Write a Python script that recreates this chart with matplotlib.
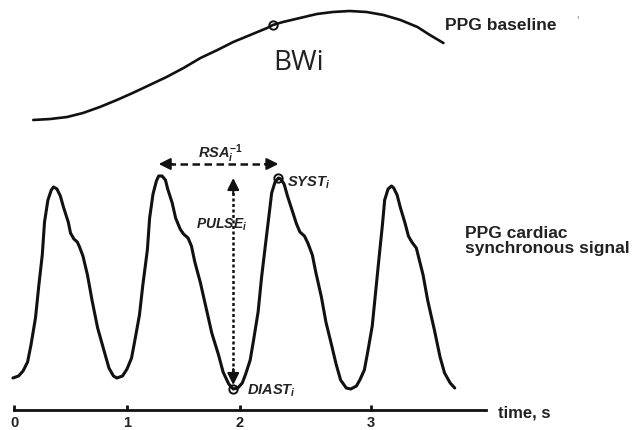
import numpy as np
import matplotlib.pyplot as plt

plt.rcParams['mathtext.fontset'] = 'custom'
plt.rcParams['mathtext.it'] = 'Liberation Sans:bold:italic'
plt.rcParams['mathtext.rm'] = 'Liberation Sans:bold'

### Data (time in s, amplitude in arbitrary units)

# PPG cardiac synchronous signal
ppg_t = [-0.01, 0.04, 0.08, 0.12, 0.15, 0.19, 0.22, 0.25, 0.27, 0.30, 0.33, 0.35,
         0.38, 0.41, 0.44, 0.48, 0.50, 0.53, 0.56, 0.58, 0.61, 0.65, 0.69, 0.74,
         0.80, 0.84, 0.88, 0.91, 0.96, 1.00,
         1.04, 1.07, 1.11, 1.14, 1.18, 1.20, 1.23, 1.26, 1.28, 1.31, 1.34, 1.36,
         1.40, 1.43, 1.47, 1.50, 1.54, 1.57, 1.60, 1.65, 1.70, 1.75, 1.81, 1.85,
         1.90, 1.94, 1.98, 2.02,
         2.05, 2.09, 2.12, 2.16, 2.19, 2.23, 2.26, 2.28, 2.31, 2.34, 2.36, 2.39,
         2.42, 2.46, 2.50, 2.53, 2.57, 2.60, 2.64, 2.67, 2.72, 2.76, 2.81, 2.85,
         2.89, 2.94, 2.98, 3.03, 3.06,
         3.10, 3.13, 3.17, 3.20, 3.23, 3.26, 3.28, 3.31, 3.34, 3.36, 3.39, 3.42,
         3.46, 3.49, 3.52, 3.56, 3.58, 3.62, 3.66, 3.72, 3.77, 3.81, 3.86, 3.90]
ppg_y = [0.32, 0.34, 0.39, 0.48, 0.65, 0.92, 1.25, 1.55, 1.88, 2.10, 2.20, 2.23,
         2.21, 2.14, 2.02, 1.88, 1.77, 1.71, 1.68, 1.63, 1.54, 1.35, 1.10, 0.82,
         0.58, 0.42, 0.34, 0.32, 0.34, 0.41,
         0.52, 0.70, 0.95, 1.25, 1.60, 1.92, 2.16, 2.29, 2.34, 2.34, 2.30, 2.21,
         2.07, 1.92, 1.81, 1.76, 1.72, 1.64, 1.48, 1.27, 1.02, 0.77, 0.55, 0.38,
         0.26, 0.21, 0.22, 0.27,
         0.36, 0.50, 0.70, 0.98, 1.32, 1.70, 1.98, 2.17, 2.28, 2.32, 2.31, 2.26,
         2.14, 2.00, 1.86, 1.78, 1.74, 1.67, 1.55, 1.38, 1.13, 0.88, 0.65, 0.46,
         0.30, 0.22, 0.21, 0.24, 0.30,
         0.40, 0.58, 0.84, 1.18, 1.52, 1.85, 2.10, 2.21, 2.24, 2.22, 2.15, 2.02,
         1.87, 1.74, 1.68, 1.62, 1.53, 1.35, 1.10, 0.80, 0.53, 0.37, 0.27, 0.22]

# PPG baseline (slow wave)
base_t = [0.17, 0.32, 0.47, 0.61, 0.76, 0.91, 1.05, 1.20, 1.35, 1.50, 1.65, 1.80,
          1.94, 2.09, 2.24, 2.29, 2.38, 2.53, 2.68, 2.82, 2.97, 3.12, 3.27, 3.42,
          3.57, 3.68, 3.80]
base_y = [2.90, 2.91, 2.93, 2.97, 3.03, 3.10, 3.17, 3.25, 3.33, 3.42, 3.52, 3.60,
          3.68, 3.75, 3.82, 3.85, 3.88, 3.92, 3.96, 3.98, 3.99, 3.98, 3.95, 3.90,
          3.83, 3.75, 3.67]
bw_time = 2.29

# time axis
tick_pos = [0, 1, 2, 3.16]
tick_labels = ['0', '1', '2', '3']
axis_end = 4.18

ppg_t = np.array(ppg_t)
ppg_y = np.array(ppg_y)

# beat i: systolic peak of the 3rd beat, diastolic minimum just before it
m = (ppg_t > 2.0) & (ppg_t < 3.0)
syst_t, syst_y = ppg_t[m][np.argmax(ppg_y[m])], ppg_y[m].max()
m = (ppg_t > 1.5) & (ppg_t < 2.2)
diast_t, diast_y = ppg_t[m][np.argmin(ppg_y[m])], ppg_y[m].min()
m = (ppg_t > 1.0) & (ppg_t < 1.6)
prev_syst_t = ppg_t[m][np.argmax(ppg_y[m])]

ink = '#111111'
txt = '#222222'

fig = plt.figure(figsize=(6.43, 4.30), dpi=100)
ax = fig.add_axes([0, 0, 1, 1])
ax.set_xlim(-0.124, 5.566)
ax.set_ylim(-0.20, 4.10)
ax.axis('off')

# signals
ax.plot(ppg_t, ppg_y, color=ink, lw=2.2, solid_joinstyle='round', solid_capstyle='round')
ax.plot(base_t, base_y, color=ink, lw=1.9, solid_joinstyle='round', solid_capstyle='round')
bi = base_t.index(bw_time)
ax.plot(base_t[bi], base_y[bi], 'o', ms=6, mfc='none', mec=ink, mew=1.4)
ax.text(base_t[bi], 3.47, 'BWi', fontsize=20, family='Open Sans', color=txt, va='center', ha='left')

# time axis
ax.plot([0, axis_end], [0, 0], color=ink, lw=2.0)
ax.plot(tick_pos, [0.02] * len(tick_pos), '|', color=ink, ms=4, mew=2)
for p, lab in zip(tick_pos, tick_labels):
    ax.text(p, -0.13, lab, ha='center', va='center', fontsize=10.5,
            fontweight='bold', family='Liberation Sans', color=txt)
ax.text(4.28, -0.03, 'time, s', ha='left', va='center', fontsize=12,
        fontweight='bold', family='Liberation Sans', color=txt)

# RSA interval arrow (peak to peak)
arrow_y = 2.46
ax.plot([prev_syst_t + 0.08, syst_t - 0.08], [arrow_y, arrow_y], color=ink, lw=1.8,
        dashes=(3, 1.8))
for tip, back in [(prev_syst_t, prev_syst_t + 0.12), (syst_t, syst_t - 0.12)]:
    ax.annotate('', xy=(tip, arrow_y), xytext=(back, arrow_y),
                arrowprops=dict(arrowstyle='-|>,head_length=0.7,head_width=0.35',
                                color=ink, lw=1.5, shrinkA=0, shrinkB=0))
ax.text(1.83, 2.56, r'$RSA_i^{-1}$', ha='center', va='center', fontsize=10.5, color=txt)

# pulse amplitude arrow (diast to syst)
ax.plot([diast_t, diast_t], [diast_y + 0.12, syst_y - 0.12], color=ink, lw=1.8,
        dashes=(1.2, 1.0))
for tip, back in [(syst_y, syst_y - 0.16), (diast_y + 0.04, diast_y + 0.2)]:
    ax.annotate('', xy=(diast_t, tip), xytext=(diast_t, back),
                arrowprops=dict(arrowstyle='-|>,head_length=0.7,head_width=0.35',
                                color=ink, lw=1.5, shrinkA=0, shrinkB=0))
ax.text(1.84, 1.85, r'$PULSE_i$', ha='center', va='center', fontsize=10, color=txt)

# systolic / diastolic points
ax.plot([syst_t, diast_t], [syst_y, diast_y], 'o', ms=6, mfc='none', mec=ink, mew=1.4)
ax.text(2.42, 2.27, r'$SYST_i$', ha='left', va='center', fontsize=10.5, color=txt)
ax.text(2.06, 0.19, r'$DIAST_i$', ha='left', va='center', fontsize=10.5, color=txt)

# labels on the right
ax.text(3.81, 3.85, "PPG baseline", ha='left', va='center', fontsize=12.5,
        fontweight='bold', family='Liberation Sans', color=txt)
ax.text(4.97, 3.90, "'", ha='left', va='center', fontsize=7, color='#777777')
ax.text(3.99, 1.69, 'PPG cardiac\nsynchronous signal', ha='left', va='center',
        fontsize=12.5, fontweight='bold', family='Liberation Sans', color=txt,
        linespacing=1.0)

fig.savefig('out.png', dpi=100)
